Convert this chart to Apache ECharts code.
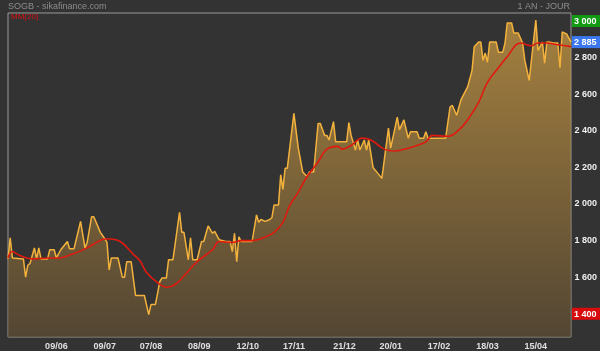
<!DOCTYPE html>
<html>
<head>
<meta charset="utf-8">
<script src="https://cdn.jsdelivr.net/npm/echarts@6/dist/echarts.min.js"></script>
<style>
  html, body { margin: 0; padding: 0; background: #333333; }
  #chart { width: 600px; height: 351px; }
</style>
</head>
<body>
<div id="chart"></div>
<script>
// trading day index (0 = first day of the year window) and closing price
var priceDays = [0, 1, 2, 7, 8, 9, 10, 12, 13, 14, 15, 18, 19, 21, 22, 24, 27, 28, 30, 33,
  35, 36, 38, 39, 42, 44, 45, 46, 47, 50, 52, 53, 54, 56, 58, 62, 64, 65, 67, 68,
  69, 70, 72, 73, 75, 78, 79, 80, 82, 83, 84, 86, 88, 89, 91, 93, 94, 96, 99, 101,
  102, 103, 104, 105, 106, 111, 113, 114, 115, 117, 119, 120, 121, 123, 124, 125, 126, 127, 130, 132,
  134, 136, 137, 139, 141, 142, 144, 145, 146, 148, 149, 154, 155, 156, 158, 159, 160, 162, 163, 164,
  166, 168, 170, 173, 174, 177, 178, 180, 182, 183, 186, 187, 189, 190, 191, 199, 201, 202, 204, 206,
  209, 211, 212, 214, 215, 216, 217, 218, 219, 222, 223, 225, 226, 227, 229, 230, 232, 234, 235, 237,
  240, 241, 243, 244, 245, 246, 248, 250, 251, 252, 254, 256];
var priceVals = [1700, 1815, 1705, 1700, 1600, 1665, 1675, 1760, 1700, 1760, 1700, 1700, 1750, 1750, 1705, 1750, 1795, 1755, 1755, 1905,
  1760, 1790, 1930, 1930, 1845, 1810, 1790, 1640, 1705, 1705, 1600, 1600, 1685, 1685, 1500, 1500, 1395, 1450, 1450, 1510,
  1575, 1595, 1595, 1695, 1695, 1955, 1845, 1845, 1695, 1815, 1695, 1695, 1795, 1795, 1880, 1840, 1850, 1805, 1795, 1795,
  1740, 1840, 1685, 1820, 1795, 1795, 1940, 1900, 1915, 1905, 1915, 1925, 1995, 1995, 2160, 2080, 2195, 2195, 2495, 2305,
  2175, 2150, 2175, 2175, 2440, 2440, 2375, 2375, 2350, 2450, 2340, 2340, 2445, 2375, 2295, 2350, 2295, 2350, 2295, 2350,
  2200, 2170, 2140, 2415, 2305, 2475, 2405, 2460, 2360, 2395, 2395, 2360, 2360, 2395, 2360, 2360, 2530, 2540, 2485, 2570,
  2640, 2730, 2860, 2885, 2885, 2785, 2825, 2775, 2885, 2885, 2830, 2830, 2880, 2990, 2990, 2935, 2935, 2880, 2785, 2675,
  3005, 2840, 2885, 2770, 2885, 2885, 2880, 2880, 2745, 2940, 2930, 2885];

// 20-day moving average (MM 20)
var maDays = [0, 2, 5, 11, 18, 23, 29, 36, 41, 45, 51, 57, 60, 63, 68, 72, 76, 81, 86, 93,
  96, 102, 106, 111, 117, 121, 125, 128, 132, 136, 141, 145, 150, 152, 156, 161, 165, 171, 176, 182,
  186, 190, 193, 200, 205, 209, 214, 218, 223, 227, 233, 238, 241, 245, 250, 256];
var maVals = [1705, 1740, 1720, 1700, 1705, 1705, 1725, 1760, 1795, 1810, 1795, 1725, 1690, 1625, 1570, 1545, 1560, 1620, 1685, 1750,
  1795, 1790, 1800, 1800, 1820, 1845, 1900, 1990, 2065, 2150, 2230, 2300, 2315, 2300, 2320, 2360, 2350, 2300, 2290, 2305,
  2320, 2340, 2375, 2370, 2405, 2460, 2555, 2665, 2745, 2805, 2880, 2865, 2880, 2880, 2870, 2860];

var tickDays = [22, 44, 65, 87, 109, 130, 153, 174, 196, 218, 240];
var tickLabels = ['09/06', '09/07', '07/08', '08/09', '12/10', '17/11', '21/12', '20/01', '17/02', '18/03', '15/04'];

var yTicks = [1400, 1600, 1800, 2000, 2200, 2400, 2600, 2800, 2885, 3000];
var lastPrice = 2885, highPrice = 3000, lowPrice = 1400;

var chart = echarts.init(document.getElementById('chart'));

function pairs(xs, ys) {
  var out = [];
  for (var i = 0; i < xs.length; i++) out.push([xs[i], ys[i]]);
  return out;
}
function fmt(v) {
  return String(v).replace(/\B(?=(\d{3})+(?!\d))/g, ' ');
}

var boxStyle = {
  color: '#fff', fontSize: 9, fontWeight: 'bold', fontFamily: 'Arial',
  padding: [2, 5, 1, 2], width: 22
};

var option = {
  backgroundColor: '#333333',
  animation: false,
  grid: {
    left: 8, right: 29, top: 13, bottom: 14,
    outerBoundsMode: 'none',
    containLabel: false,
    show: true, borderColor: '#9a9a9a', borderWidth: 1,
    backgroundColor: '#333333'
  },
  graphic: [
    { type: 'text', left: 8, top: 2, style: { text: 'SOGB - sikafinance.com', fill: '#8c8c8c', font: '9px Arial' } },
    { type: 'text', right: 30, top: 2, style: { text: '1 AN - JOUR', fill: '#8c8c8c', font: '9px Arial' } },
    { type: 'text', left: 11, top: 13, z: 10, style: { text: 'MM(20)', fill: '#e01212', font: '8px Arial' } }
  ],
  xAxis: {
    type: 'value', min: 0, max: 256,
    splitLine: { show: false },
    axisLine: { show: false },
    axisTick: { show: false },
    axisLabel: {
      customValues: tickDays,
      color: '#e0e0e0', fontSize: 9, fontWeight: 'bold', fontFamily: 'Arial', margin: 5,
      formatter: function (v) {
        var i = tickDays.indexOf(v);
        return i >= 0 ? tickLabels[i] : '';
      }
    }
  },
  yAxis: {
    type: 'value', position: 'right', min: 1273, max: 3044,
    splitLine: { show: false },
    axisLine: { show: false },
    axisTick: { show: false },
    axisLabel: {
      customValues: yTicks,
      margin: 1,
      color: '#f0f0f0', fontSize: 9, fontWeight: 'bold', fontFamily: 'Arial',
      formatter: function (v) {
        if (v === highPrice) return '{hi|' + fmt(v) + '}';
        if (v === lastPrice) return '{last|' + fmt(v) + '}';
        if (v === lowPrice) return '{lo|' + fmt(v) + '}';
        return ' ' + fmt(v);
      },
      rich: {
        hi: Object.assign({ backgroundColor: '#129a12' }, boxStyle),
        last: Object.assign({ backgroundColor: '#3b78f0' }, boxStyle),
        lo: Object.assign({ backgroundColor: '#d80c0c' }, boxStyle)
      }
    }
  },
  series: [
    {
      name: 'SOGB',
      type: 'line',
      data: pairs(priceDays, priceVals),
      symbol: 'none',
      lineStyle: { color: '#f3b23c', width: 1.5 },
      areaStyle: {
        color: new echarts.graphic.LinearGradient(0, 0, 0, 1, [
          { offset: 0, color: '#d6a244' },
          { offset: 1, color: '#604e33' }
        ])
      },
      z: 2
    },
    {
      name: 'MM(20)',
      type: 'line',
      data: pairs(maDays, maVals),
      symbol: 'none',
      smooth: 0.4,
      lineStyle: { color: '#e01a0e', width: 1.6 },
      z: 3
    }
  ]
};

chart.setOption(option);
</script>
</body>
</html>
